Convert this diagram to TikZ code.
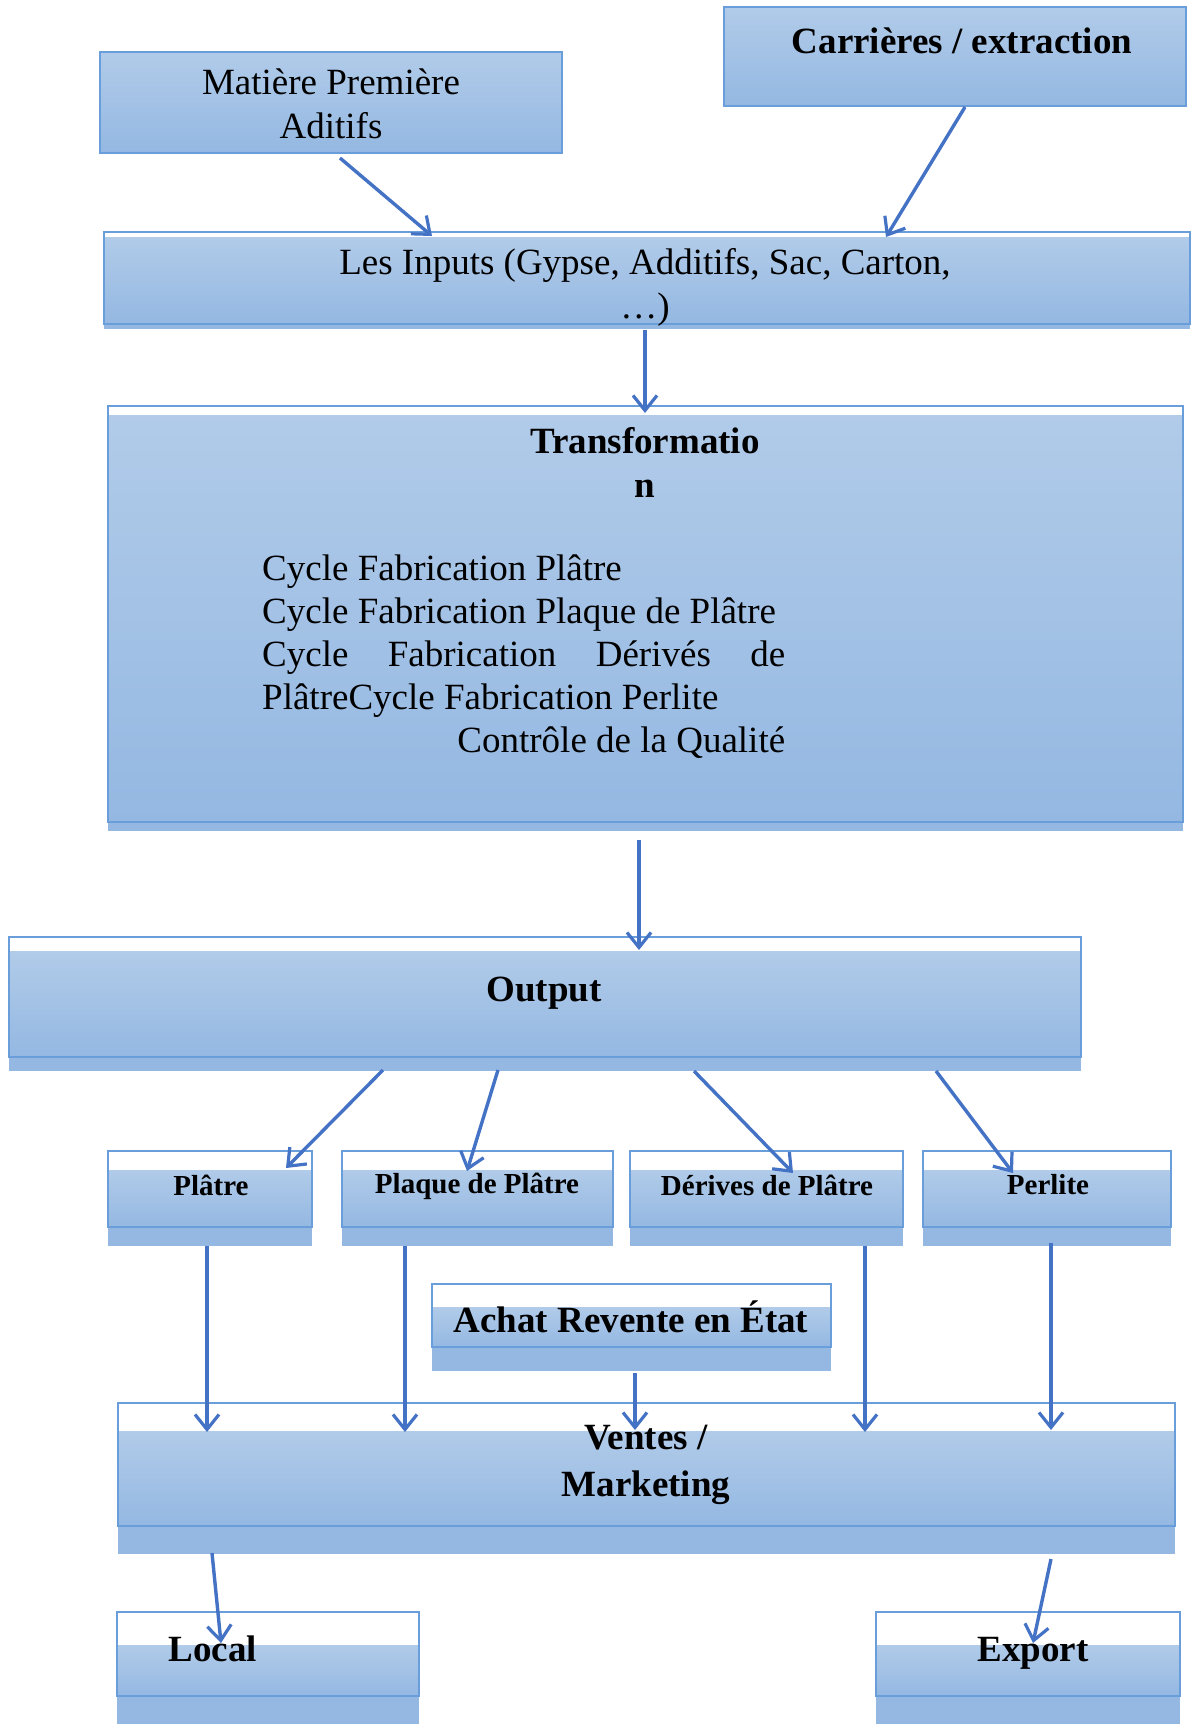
\documentclass[tikz,border=0pt]{standalone}
\usepackage{fontspec}
\setmainfont{Liberation Serif}
\usetikzlibrary{arrows.meta,calc}

\definecolor{boxtop}{HTML}{B1CBE9}
\definecolor{boxbot}{HTML}{94B8E2}
\definecolor{boxline}{HTML}{6A9EDA}
\definecolor{flow}{HTML}{4472C4}

\tikzset{
  flowarrow/.style={draw=flow, line width=3.4pt,
    -{Straight Barb[length=15pt,width=24pt,line width=3.2pt]}},
  boxlabel/.style={font=\fontsize{37}{44}\selectfont, align=center, inner sep=0pt},
  boxlabelbold/.style={boxlabel, font=\fontsize{37}{44}\selectfont\bfseries},
  smalllabel/.style={boxlabel, font=\fontsize{29}{34}\selectfont\bfseries},
  frame/.style={inner sep=0pt, outer sep=0pt, draw=none}
}

% \panel{name}{left}{top}{right}{strip bottom}{body bottom}{band bottom}
\newcommand{\panel}[7]{%
  \fill[boxbot] (#2,#6) rectangle (#4,#7);
  \shade[top color=boxtop, bottom color=boxbot] (#2,#5) rectangle (#4,#6);
  \draw[boxline, line width=1.5pt] (#2,#3) rectangle (#4,#6);
  \node[frame, minimum width={#4-#2}, minimum height={#7-#3}, anchor=north west]
    (#1) at (#2,#3) {};
}

\begin{document}
\begin{tikzpicture}[x=1pt, y=-1pt]
\useasboundingbox (0,0) rectangle (1195,1724);

% source boxes
\panel{mat}{100}{52}{562}{52}{153}{153}
\panel{car}{724}{7}{1186}{7}{106}{106}
% main chain
\panel{inp}{104}{232}{1190}{237}{324}{329}
\panel{tra}{108}{406}{1183}{415}{822}{831}
\panel{out}{9}{937}{1081}{951}{1057}{1071}
% products
\panel{pla}{108}{1151}{312}{1170}{1227}{1246}
\panel{plq}{342}{1151}{613}{1170}{1227}{1246}
\panel{der}{630}{1151}{903}{1170}{1227}{1246}
\panel{per}{923}{1151}{1171}{1170}{1227}{1246}
% trading and sales
\panel{ach}{432}{1284}{831}{1307}{1347}{1371}
\panel{ven}{118}{1403}{1175}{1431}{1526}{1554}
\panel{loc}{117}{1612}{419}{1645}{1696}{1724}
\panel{exp}{876}{1612}{1180}{1645}{1696}{1724}

% texts
\node[boxlabel] (matT) at (331,104) {Matière Première\\Aditifs};
\node[boxlabelbold] (carT) at (962,41) {Carrières / extraction};
\node[boxlabel] (inpT) at (645,287) {Les Inputs (Gypse, Additifs, Sac, Carton,\\…)};
\node[boxlabelbold] (traT) at (645,462) {Transformatio\\n};
\node[boxlabel, anchor=north west, align=left,
      font=\fontsize{37}{43}\selectfont] (traL) at (262,555)
  {Cycle Fabrication Plâtre\\
   Cycle Fabrication Plaque de Plâtre\\
   \makebox[523pt][s]{Cycle Fabrication Dérivés de}\\
   PlâtreCycle Fabrication Perlite\\
   \makebox[523pt][r]{Contrôle de la Qualité}};
\node[boxlabelbold] (outT) at (544,993) {Output};
\node[smalllabel] (plaT) at (211,1185) {Plâtre};
\node[smalllabel] (plqT) at (477,1186) {Plaque de Plâtre};
\node[smalllabel] (derT) at (767,1185) {Dérives de Plâtre};
\node[smalllabel] (perT) at (1048,1185) {Perlite};
\node[boxlabelbold] (achT) at (631,1317) {Achat Revente en État};
\node[boxlabelbold, font=\fontsize{37}{47}\selectfont\bfseries] (venT) at (646,1465) {Ventes /\\Marketing};
\node[boxlabelbold] (locT) at (213,1649) {Local};
\node[boxlabelbold] (expT) at (1033,1653) {Export};

% connectors
\draw[flowarrow] ($(mat.south west)+(240,5)$) -- ($(inp.north west)+(328,4)$);
\draw[flowarrow] ($(car.south west)+(241,1)$) -- ($(inp.north west)+(782,5)$);
\draw[flowarrow] ($(inp.south west)+(541,1)$) -- ($(tra.north west)+(537,7)$);
\draw[flowarrow] ($(tra.south west)+(531,9)$) -- ($(out.north west)+(630,13)$);
\draw[flowarrow] ($(out.south west)+(374,-1)$) -- ($(pla.north west)+(178,17)$);
\draw[flowarrow] ($(out.south west)+(489,-1)$) -- ($(plq.north west)+(125,20)$);
\draw[flowarrow] ($(out.south west)+(685,0)$) -- ($(der.north west)+(163,22)$);
\draw[flowarrow] ($(out.south west)+(927,0)$) -- ($(per.north west)+(90,22)$);
\draw[flowarrow] ($(pla.south west)+(99,0)$) -- ($(ven.north west)+(89,29)$);
\draw[flowarrow] ($(plq.south west)+(63,0)$) -- ($(ven.north west)+(287,29)$);
\draw[flowarrow] ($(ach.south west)+(203,2)$) -- ($(ven.north west)+(517,27)$);
\draw[flowarrow] ($(der.south west)+(235,0)$) -- ($(ven.north west)+(747,29)$);
\draw[flowarrow] ($(per.south west)+(128,-3)$) -- ($(ven.north west)+(933,27)$);
\draw[flowarrow] ($(ven.south west)+(94,-1)$) -- ($(loc.north west)+(104,31)$);
\draw[flowarrow] ($(ven.south west)+(933,5)$) -- ($(exp.north west)+(157,31)$);
\end{tikzpicture}
\end{document}
